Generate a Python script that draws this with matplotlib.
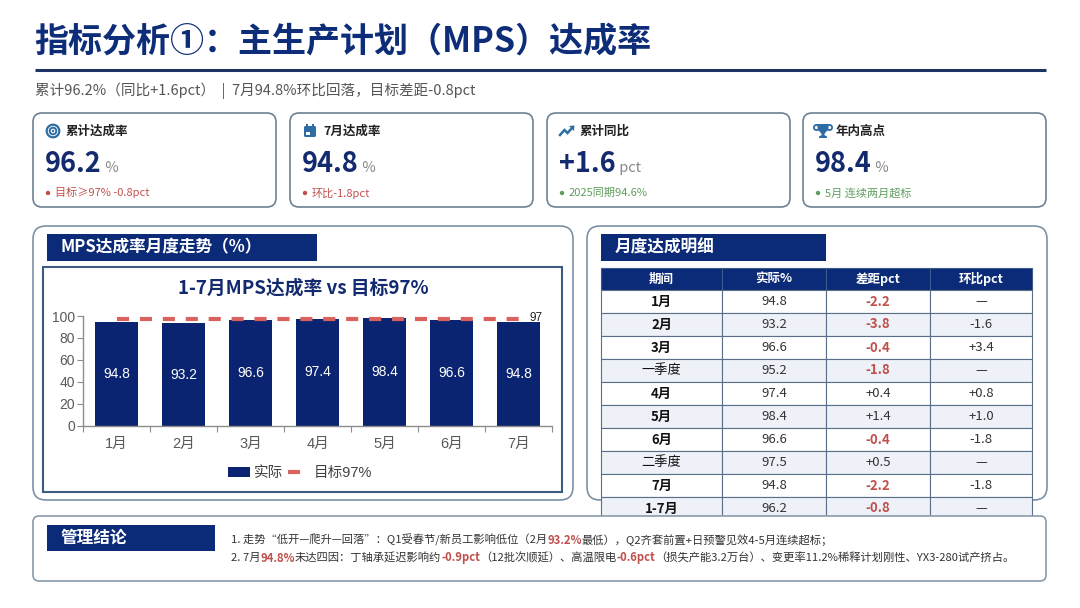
import numpy as np
import matplotlib
matplotlib.use('Agg')
import matplotlib.pyplot as plt
from matplotlib.patches import FancyBboxPatch, Rectangle, Circle, Polygon

plt.rcParams['font.family'] = ['Noto Sans CJK SC', 'DejaVu Sans']
CHART_FONT = ['Liberation Sans', 'Noto Sans CJK SC', 'DejaVu Sans']

# ---------------- data ----------------
months = ['1月', '2月', '3月', '4月', '5月', '6月', '7月']
actual = [94.8, 93.2, 96.6, 97.4, 98.4, 96.6, 94.8]
target = 97
yticks = [0, 20, 40, 60, 80, 100]

kpi_titles = ['累计达成率', '7月达成率', '累计同比', '年内高点']
kpi_values = ['96.2', '94.8', '+1.6', '98.4']
kpi_units = ['%', '%', 'pct', '%']
kpi_notes = ['目标≥97% -0.8pct', '环比-1.8pct', '2025同期94.6%', '5月 连续两月超标']
kpi_note_good = [False, False, True, True]

table_header = ['期间', '实际%', '差距pct', '环比pct']
table_period = ['1月', '2月', '3月', '一季度', '4月', '5月', '6月', '二季度', '7月', '1-7月']
table_actual = ['94.8', '93.2', '96.6', '95.2', '97.4', '98.4', '96.6', '97.5', '94.8', '96.2']
table_gap = ['-2.2', '-3.8', '-0.4', '-1.8', '+0.4', '+1.4', '-0.4', '+0.5', '-2.2', '-0.8']
table_mom = ['—', '-1.6', '+3.4', '—', '+0.8', '+1.0', '-1.8', '—', '-1.8', '—']
period_bold = [True, True, True, False, True, True, True, False, True, True]

title = '指标分析①：主生产计划（MPS）达成率'
subtitle = '累计96.2%（同比+1.6pct）  |  7月94.8%环比回落，目标差距-0.8pct'
chart_header = 'MPS达成率月度走势（%）'
chart_title = '1-7月MPS达成率 vs 目标97%'
table_title = '月度达成明细'
concl_title = '管理结论'

# ---------------- styles ----------------
NAVY = '#0b2a78'
BAR = '#0b2471'
NUM = '#132a6e'
RED = '#c0504d'
GREEN = '#5f9e5f'
DARK = '#333333'
BORDER = '#7d91a5'
ICON = '#2e6da4'

W, H = 1080, 608
fig = plt.figure(figsize=(10.8, 6.08), dpi=100)
fig.patch.set_facecolor('white')
ov = fig.add_axes([0, 0, 1, 1], zorder=0)
ov.set_xlim(0, W)
ov.set_ylim(H, 0)
ov.axis('off')
r = fig.canvas.get_renderer()


def runs(x, y, parts, va='center', z=5):
    for txt, size, color, weight in parts:
        t = ov.text(x, y, txt, fontsize=size, color=color, fontweight=weight,
                    va=va, ha='left', zorder=z)
        bb = t.get_window_extent(renderer=r)
        x = bb.x1
    return x


def rbox(x0, y0, x1, y1, rad, ec=BORDER, lw=1.2, fc='white', z=1):
    p = FancyBboxPatch((x0, y0), x1 - x0, y1 - y0,
                       boxstyle=f'round,pad=0,rounding_size={rad}',
                       fc=fc, ec=ec, lw=lw, zorder=z)
    ov.add_patch(p)


# ---------------- title ----------------
ov.text(34, 42, title, fontsize=24.5, fontweight='bold', color='#0e2d78', va='center', ha='left')
ov.plot([35, 1046], [70, 70], color='#1c3461', lw=2.2, solid_capstyle='butt')
ov.text(35, 91, subtitle, fontsize=10.5, color='#555555', va='center', ha='left')

# ---------------- KPI cards ----------------
card_x = [33, 290, 547, 803]
card_w = 243


def icon(kind, cx, cy):
    if kind == 0:
        ov.add_patch(Circle((cx, cy), 6.3, fc='none', ec=ICON, lw=1.6, zorder=6))
        ov.add_patch(Circle((cx, cy), 3.3, fc='none', ec=ICON, lw=1.4, zorder=6))
        ov.add_patch(Circle((cx, cy), 1.2, fc=ICON, ec='none', zorder=6))
    elif kind == 1:
        ov.add_patch(FancyBboxPatch((cx - 6, cy - 5), 12, 11, boxstyle='round,pad=0,rounding_size=1.5',
                                    fc=ICON, ec='none', zorder=6))
        ov.add_patch(Rectangle((cx - 4, cy - 7.5), 1.8, 3, fc=ICON, ec='none', zorder=6))
        ov.add_patch(Rectangle((cx + 2.2, cy - 7.5), 1.8, 3, fc=ICON, ec='none', zorder=6))
        ov.add_patch(Rectangle((cx - 4, cy + 1), 3.5, 3, fc='white', ec='none', zorder=7))
    elif kind == 2:
        ov.plot([cx - 7, cx - 2.5, cx + 0.5, cx + 5], [cy + 4, cy - 1, cy + 2, cy - 3],
                color=ICON, lw=1.8, zorder=6, solid_joinstyle='miter')
        ov.add_patch(Polygon([[cx + 2, cy - 5], [cx + 7.5, cy - 5.5], [cx + 7, cy]],
                             closed=True, fc=ICON, ec='none', zorder=6))
    else:
        ov.add_patch(Polygon([[cx - 6, cy - 7], [cx + 6, cy - 7], [cx + 5, cy - 1], [cx + 2, cy + 2],
                              [cx + 1.2, cy + 4], [cx + 4, cy + 5.5], [cx + 4, cy + 7],
                              [cx - 4, cy + 7], [cx - 4, cy + 5.5], [cx - 1.2, cy + 4],
                              [cx - 2, cy + 2], [cx - 5, cy - 1]],
                             closed=True, fc=ICON, ec='none', zorder=6))
        ov.add_patch(Circle((cx - 6.5, cy - 3.5), 2.6, fc='none', ec=ICON, lw=1.3, zorder=6))
        ov.add_patch(Circle((cx + 6.5, cy - 3.5), 2.6, fc='none', ec=ICON, lw=1.3, zorder=6))


for i, cx0 in enumerate(card_x):
    rbox(cx0, 113, cx0 + card_w, 207, 9, ec='#6d8194', lw=1.2)
    icon(i, cx0 + 20, 131)
    ov.text(cx0 + 33, 131, kpi_titles[i], fontsize=9, fontweight='bold', color='#222222',
            va='center', ha='left', zorder=6)
    runs(cx0 + 12, 172, [(kpi_values[i], 19.5, NUM, 'bold'), (' ' + kpi_units[i], 10.5, '#888888', 'normal')],
         va='baseline')
    c = GREEN if kpi_note_good[i] else RED
    ov.add_patch(Circle((cx0 + 15, 193), 2.2, fc=c, ec='none', zorder=6))
    ov.text(cx0 + 22, 193, kpi_notes[i], fontsize=8, color=c, va='center', ha='left', zorder=6)

# ---------------- left panel (chart) ----------------
rbox(33, 226, 573, 500, 13)
ov.add_patch(Rectangle((47, 234), 270, 27, fc=NAVY, ec='none', zorder=3))
ov.text(61, 247.5, chart_header, fontsize=12, fontweight='bold', color='white', va='center', ha='left', zorder=4)
ov.add_patch(Rectangle((43, 267), 519, 225, fc='white', ec='#3d5a80', lw=1.5, zorder=2))
ov.text(303, 288, chart_title, fontsize=13.5, fontweight='bold', color=NUM, va='center', ha='center', zorder=4)

ax_l, ax_r, ax_t, ax_b = 83.2, 552, 316, 425.7
ax = fig.add_axes([ax_l / W, 1 - ax_b / H, (ax_r - ax_l) / W, (ax_b - ax_t) / H], zorder=3)
ax.set_facecolor('none')
x = np.arange(len(months))
bars = ax.bar(x, actual, width=0.64, color=BAR, zorder=2)
tline, = ax.plot(x, [target] * len(x), color='#d9625e', lw=3, dashes=(2.9, 2.6), zorder=3)
for xi, v in zip(x, actual):
    ax.text(xi, v / 2, f'{v}', color='white', ha='center', va='center', fontsize=10,
            family=CHART_FONT, zorder=4)
ax.text(x[-1] + 0.17, target + 1.2, f'{target}', color='#222222', fontsize=8.5, ha='left', va='center',
        family=CHART_FONT, clip_on=False)
ax.set_xlim(-0.5, len(months) - 0.5)
ax.set_ylim(0, 100)
ax.set_yticks(yticks)
ax.set_yticklabels([str(v) for v in yticks], fontsize=10, color='#595959', family=CHART_FONT)
ax.set_xticks(np.arange(-0.5, len(months), 1))
ax.set_xticklabels([])
ax.set_xticks(x, minor=True)
ax.set_xticklabels(months, minor=True, fontsize=10.5, color='#595959', family=CHART_FONT)
ax.tick_params(axis='y', length=4, color='#8c8c8c', pad=2)
ax.tick_params(axis='x', which='major', length=4, color='#8c8c8c')
ax.tick_params(axis='x', which='minor', length=0, pad=8)
for s in ['top', 'right']:
    ax.spines[s].set_visible(False)
for s in ['left', 'bottom']:
    ax.spines[s].set_color('#8c8c8c')
    ax.spines[s].set_linewidth(1)
ax.legend([bars, tline], ['实际', '目标97%'], loc='center', bbox_to_anchor=(300, 473),
          bbox_transform=ov.transData, ncol=2, frameon=False,
          handlelength=1.5, handleheight=0.75, handletextpad=0.3, columnspacing=0.3,
          labelcolor='#404040', prop={'family': CHART_FONT, 'size': 10.5})

# ---------------- right panel (table) ----------------
rbox(587, 226, 1047, 500, 13)
ov.add_patch(Rectangle((601, 234), 225, 26.5, fc=NAVY, ec='none', zorder=3))
ov.text(615, 247.5, table_title, fontsize=12, fontweight='bold', color='white', va='center', ha='left', zorder=4)

col_edges = [601, 722, 826, 930, 1032]
hdr_top, hdr_h, row_h = 268, 22, 23
GRID = '#5a6f88'
for j in range(4):
    ov.add_patch(Rectangle((col_edges[j], hdr_top), col_edges[j + 1] - col_edges[j], hdr_h,
                           fc=NAVY, ec='#3d5a8a', lw=0.8, zorder=3))
    ov.text((col_edges[j] + col_edges[j + 1]) / 2, hdr_top + hdr_h / 2, table_header[j], fontsize=9,
            fontweight='bold', color='white', va='center', ha='center', zorder=4)
for i in range(len(table_period)):
    y0 = hdr_top + hdr_h + i * row_h
    fc = 'white' if i % 2 == 0 else '#eef2f8'
    cells = [table_period[i], table_actual[i], table_gap[i], table_mom[i]]
    for j in range(4):
        ov.add_patch(Rectangle((col_edges[j], y0), col_edges[j + 1] - col_edges[j], row_h,
                               fc=fc, ec=GRID, lw=0.8, zorder=3))
        color, weight = DARK, 'normal'
        if j == 0:
            color = '#111111'
            weight = 'bold' if period_bold[i] else 'normal'
        elif j == 2 and cells[j].startswith('-'):
            color, weight = RED, 'bold'
        ov.text((col_edges[j] + col_edges[j + 1]) / 2, y0 + row_h / 2, cells[j], fontsize=9.5,
                fontweight=weight, color=color, va='center', ha='center', zorder=4)

# ---------------- conclusion ----------------
rbox(33, 516, 1046, 581, 6, ec='#8a9aaa', lw=1.2, z=8)
ov.add_patch(Rectangle((47, 524.5), 168, 26, fc=NAVY, ec='none', zorder=9))
ov.text(61, 537.5, concl_title, fontsize=12, fontweight='bold', color='white', va='center', ha='left', zorder=10)
FS = 8.1
line1 = [('1. 走势“低开—爬升—回落”：Q1受春节/新员工影响低位（2月', FS, DARK, 'normal'),
         ('93.2%', FS, RED, 'bold'),
         ('最低），Q2齐套前置+日预警见效4-5月连续超标；', FS, DARK, 'normal')]
line2 = [('2. 7月', FS, DARK, 'normal'),
         ('94.8%', FS, RED, 'bold'),
         ('未达四因：丁轴承延迟影响约', FS, DARK, 'normal'),
         ('-0.9pct', FS, RED, 'bold'),
         ('（12批次顺延）、高温限电', FS, DARK, 'normal'),
         ('-0.6pct', FS, RED, 'bold'),
         ('（损失产能3.2万台）、变更率11.2%稀释计划刚性、YX3-280试产挤占。', FS, DARK, 'normal')]
runs(231, 540, line1, z=10)
runs(231, 558, line2, z=10)

fig.savefig('out.png', dpi=100, facecolor='white')
